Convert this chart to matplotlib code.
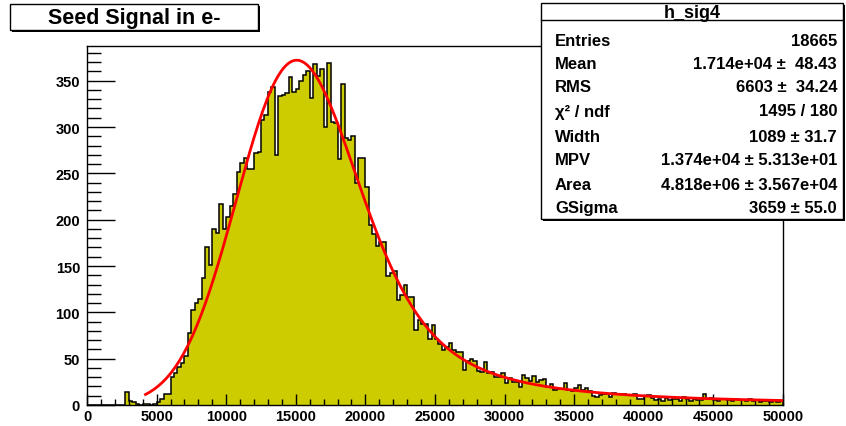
import numpy as np
import matplotlib
matplotlib.use("Agg")
import matplotlib.pyplot as plt
from matplotlib.patches import Rectangle
from matplotlib.ticker import MultipleLocator

plt.rcParams["font.family"] = ["Liberation Sans", "DejaVu Sans"]
plt.rcParams["font.weight"] = "bold"

# ---- histogram h_sig4: seed signal (electrons), 200 bins over [0, 50000]
x_min, x_max, n_bins = 0.0, 50000.0, 200
counts = [
    0, 0, 0, 0, 0, 0, 0, 0, 0, 0,
    0, 14, 4, 3, 1, 0, 1, 1, 0, 1,
    3, 7, 12, 12, 30, 35, 41, 45, 53, 78,
    103, 110, 114, 137, 171, 151, 190, 186, 217, 190,
    203, 215, 228, 252, 261, 267, 255, 255, 272, 273,
    308, 313, 338, 343, 270, 334, 335, 337, 354, 338,
    341, 350, 356, 360, 331, 368, 355, 363, 300, 369,
    305, 304, 265, 346, 288, 286, 290, 240, 267, 267,
    235, 194, 185, 172, 176, 176, 139, 143, 145, 113,
    119, 129, 117, 117, 81, 92, 87, 87, 71, 86,
    71, 66, 59, 63, 67, 59, 57, 57, 38, 47,
    50, 48, 37, 36, 46, 35, 36, 30, 30, 34,
    24, 29, 25, 25, 19, 32, 29, 26, 31, 25,
    27, 28, 19, 23, 16, 17, 17, 24, 16, 15,
    18, 22, 16, 18, 15, 10, 9, 11, 12, 12,
    9, 13, 12, 12, 12, 11, 11, 12, 7, 7,
    10, 11, 8, 5, 7, 4, 8, 5, 7, 6,
    4, 9, 6, 4, 6, 5, 5, 12, 6, 8,
    5, 4, 6, 6, 5, 4, 6, 5, 5, 4,
    6, 4, 5, 3, 4, 4, 3, 5, 3, 4,
]

# ---- Landau (x) Gauss fit result
fit_width = 1089.0
fit_mpv = 1.374e04
fit_area = 4.818e06
fit_gsigma = 3659.0
fit_range = (4200.0, 50000.0)

# ---- statistics box
stats_title = "h_sig4"
stats_labels = ["Entries", "Mean", "RMS", "\u03c7\u00b2 / ndf", "Width", "MPV", "Area", "GSigma"]
stats_values = ["18665", "1.714e+04 \u00b1  48.43", "6603 \u00b1  34.24", "1495 / 180",
                "1089 \u00b1 31.7", "1.374e+04 \u00b1 5.313e+01", "4.818e+06 \u00b1 3.567e+04",
                "3659 \u00b1 55.0"]
title_text = "Seed Signal in e-"


def landau_table(v_lo=-3.5, v_hi=60.0, dv=0.05):
    """Landau density phi(v) = 1/pi * int_0^inf exp(-v t - t ln t) sin(pi t) dt."""
    t = np.linspace(0.0, 60.0, 60001)[1:]
    base = -t * np.log(t)
    s = np.sin(np.pi * t)
    dt = t[1] - t[0]
    vs = np.arange(v_lo, v_hi + dv, dv)
    phi = np.empty_like(vs)
    for k, v in enumerate(vs):
        f = np.exp(base - v * t) * s
        phi[k] = np.trapezoid(f, dx=dt) / np.pi
    return vs, np.clip(phi, 0.0, None)


V_TAB, PHI_TAB = landau_table()


def landau(v):
    v = np.asarray(v, dtype=float)
    out = np.interp(v, V_TAB, PHI_TAB, left=0.0, right=0.0)
    hi = v > V_TAB[-1]
    out[hi] = 1.0 / v[hi] ** 2
    return out


def langaus(x, width, mpv, area, gsigma):
    mpshift = -0.22278298
    mpc = mpv - mpshift * width
    u = np.linspace(-5.0, 5.0, 1201)
    du = u[1] - u[0]
    res = []
    for xi in np.atleast_1d(x):
        xx = xi + u * gsigma
        fl = landau((xx - mpc) / width) / width
        g = np.exp(-0.5 * u ** 2)
        res.append(area * np.sum(fl * g) * du / np.sqrt(2 * np.pi))
    return np.array(res)


edges = np.linspace(x_min, x_max, n_bins + 1)
vals = np.asarray(counts, dtype=float)

W, H = 846, 427
fig = plt.figure(figsize=(W / 100, H / 100), dpi=100)
fig.patch.set_facecolor("white")
ax = fig.add_axes([87 / W, 1 - 406 / H, (783 - 87) / W, (406 - 47) / H])

ax.stairs(vals, edges, fill=True, color="#cccc00", zorder=1)
ax.stairs(vals, edges, color="black", linewidth=1.1, zorder=2)

xf = np.linspace(fit_range[0], fit_range[1], 300)
ax.plot(xf, langaus(xf, fit_width, fit_mpv, fit_area, fit_gsigma),
        color="red", linewidth=2.0, zorder=3)

ax.set_xlim(x_min, x_max)
ax.set_ylim(0, 1.05 * vals.max())

ax.xaxis.set_major_locator(MultipleLocator(5000))
ax.xaxis.set_minor_locator(MultipleLocator(1000))
ax.yaxis.set_major_locator(MultipleLocator(50))
ax.yaxis.set_minor_locator(MultipleLocator(10))
ax.tick_params(axis="x", which="major", direction="in", length=8, width=1, pad=3, labelsize=10.5)
ax.tick_params(axis="x", which="minor", direction="in", length=4, width=1)
ax.tick_params(axis="y", which="major", direction="in", length=20, width=1, pad=5, labelsize=10.5)
ax.tick_params(axis="y", which="minor", direction="in", length=10, width=1)
for lab in ax.get_xticklabels() + ax.get_yticklabels():
    lab.set_fontweight("bold")
for sp in ax.spines.values():
    sp.set_linewidth(1.0)


def fig_box(x0, y0, x1, y1, z=10):
    """Box with a small drop shadow, coordinates in pixels from top-left."""
    sh = Rectangle(((x0 + 2) / W, 1 - (y1 + 2) / H), (x1 - x0) / W, (y1 - y0) / H,
                   transform=fig.transFigure, facecolor="black", edgecolor="none", zorder=z)
    bx = Rectangle((x0 / W, 1 - y1 / H), (x1 - x0) / W, (y1 - y0) / H,
                   transform=fig.transFigure, facecolor="white", edgecolor="black",
                   linewidth=1.0, zorder=z + 1)
    fig.add_artist(sh)
    fig.add_artist(bx)


# title pave
fig_box(10, 5, 258, 31)
fig.text(134 / W, 1 - 18.5 / H, title_text, ha="center", va="center",
         fontsize=15.5, fontweight="bold", zorder=20)

# statistics pave
fig_box(541, 4, 843, 220)
fig.add_artist(plt.Line2D([541 / W, 843 / W], [1 - 21 / H, 1 - 21 / H],
                          transform=fig.transFigure, color="black", linewidth=1.0, zorder=20))
fig.text(692 / W, 1 - 13 / H, stats_title, ha="center", va="center",
         fontsize=13, fontweight="bold", zorder=20)
row_y = [41, 64.5, 88, 112, 137, 161, 185, 208.5]
for lab, val, yy in zip(stats_labels, stats_values, row_y):
    fig.text(555 / W, 1 - yy / H, lab, ha="left", va="center",
             fontsize=12, fontweight="bold", zorder=20)
    fig.text(837 / W, 1 - yy / H, val, ha="right", va="center",
             fontsize=12, fontweight="bold", zorder=20)

fig.savefig("out.png", dpi=100)
